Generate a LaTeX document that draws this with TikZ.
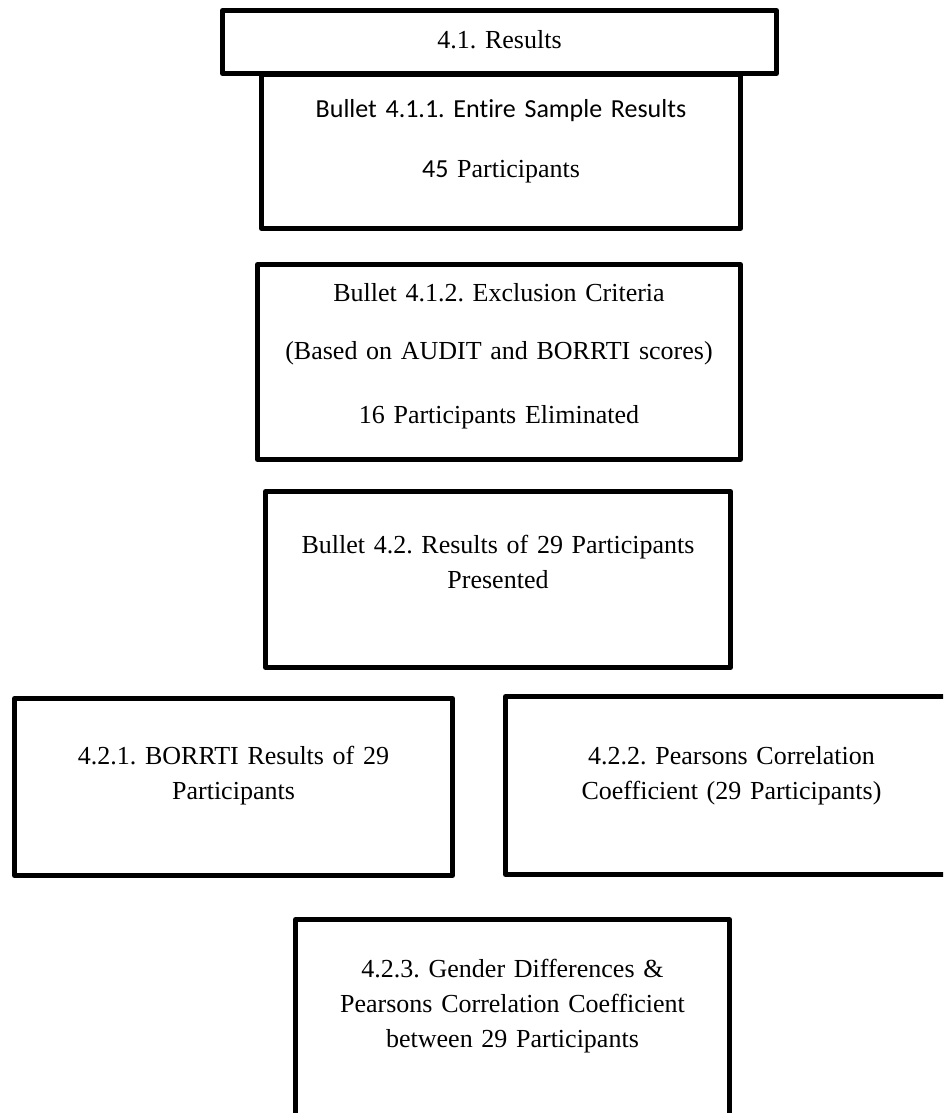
\documentclass[tikz,border=0pt]{standalone}
\usepackage{fontspec}
\setmainfont{Liberation Serif}
\newfontfamily\calib[Ligatures=NoCommon]{Carlito}
\usepackage{tikz}
\usetikzlibrary{positioning}
\frenchspacing
\tikzset{
  box/.style={rectangle,draw=black,line width=5pt,line join=round,fill=white,
              anchor=north west,align=center,inner sep=0pt,
              font=\fontsize{26}{35}\selectfont},
}

\begin{document}
\begin{tikzpicture}[x=1pt,y=-1pt]
  \clip (0,0) rectangle (943,1113);
  \fill[white] (0,0) rectangle (943,1113);
  \node[box,text width=479pt,text height=43pt,text depth=111pt] (ent) at (259,72)
    {{\calib Bullet 4.1.1. Entire Sample Results}\\[25pt]{\calib 45} Participants};
  \node[box,text width=554pt,text height=38pt,text depth=25pt] (res) at (220,8) {4.1. Results};
  \node[box,text width=483pt,text height=37pt,text depth=158pt] (exc) at (255,262)
    {Bullet 4.1.2. Exclusion Criteria\\[23pt](Based on AUDIT and BORRTI scores)\\[29pt]16 Participants Eliminated};
  \node[box,text width=465pt,text height=62pt,text depth=114pt] (pres) at (263,489)
    {Bullet 4.2. Results of 29 Participants\\Presented};
  \node[box,text width=438pt,text height=66pt,text depth=111pt] (bor) at (12,696)
    {4.2.1. BORRTI Results of 29\\Participants};
  \node[box,text width=452pt,text height=68pt,text depth=110pt] (pear) at (503,694)
    {4.2.2. Pearsons Correlation\\Coefficient (29 Participants)};
  \node[box,text width=434pt,text height=58pt,text depth=150pt] (gen) at (293,917)
    {4.2.3. Gender Differences \&\\Pearsons Correlation Coefficient\\between 29 Participants};
\end{tikzpicture}
\end{document}
